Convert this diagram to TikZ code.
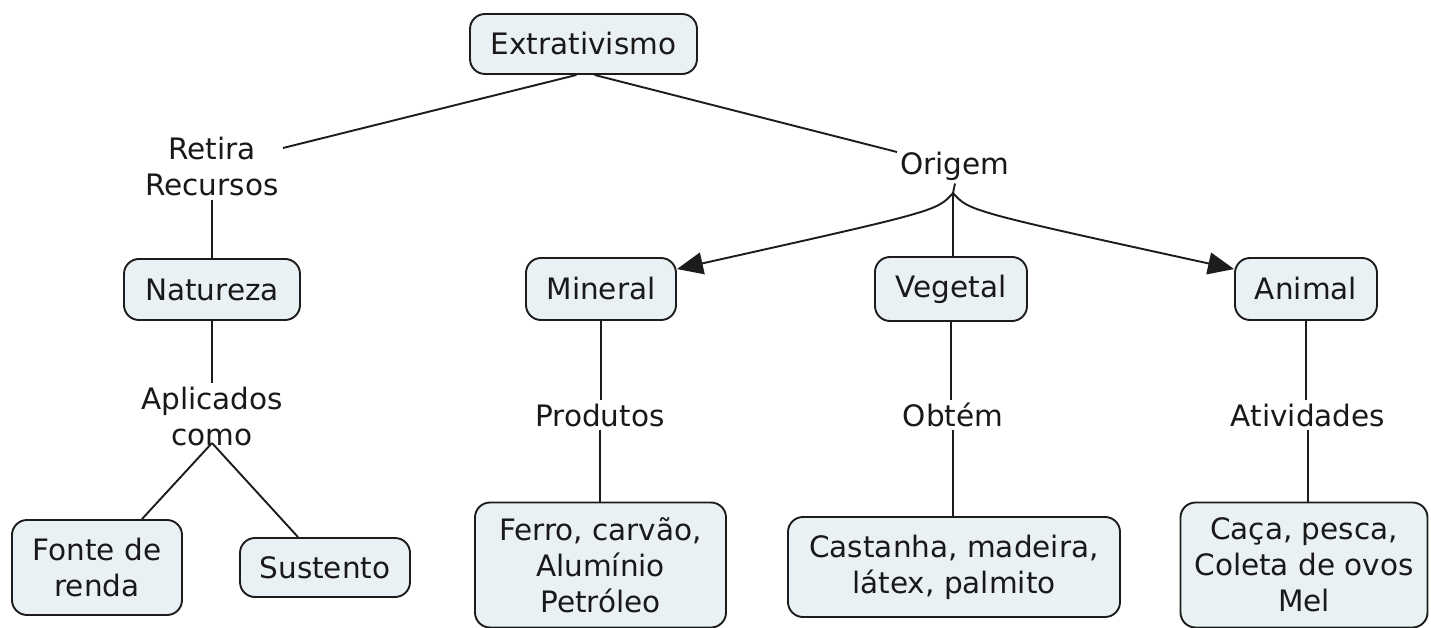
\documentclass[tikz,border=0pt]{standalone}
\usepackage{fontspec}
\setmainfont{DejaVu Sans}
\usetikzlibrary{arrows.meta,calc}
\definecolor{boxfill}{RGB}{234,241,245}
\definecolor{edgecol}{RGB}{28,28,28}
\definecolor{txtcol}{RGB}{25,25,25}
\begin{document}
\begin{tikzpicture}[x=1pt,y=-1pt,
  concept/.style={draw=edgecol, line width=1.9pt, fill=boxfill, rounded corners=15pt,
    font=\fontsize{29.5pt}{36pt}\selectfont, text=txtcol, align=center, inner sep=0pt},
  lbl/.style={font=\fontsize{29.5pt}{36pt}\selectfont, text=txtcol, align=center, inner sep=3pt},
  conn/.style={line width=1.9pt, draw=edgecol},
  arr/.style={conn, -{Triangle[length=26pt,width=22pt]}}]
\useasboundingbox (0,0) rectangle (1431,628);
\fill[white] (0,0) rectangle (1431,628);

% concepts
\node[concept, minimum width=227pt, minimum height=60pt] (ext) at (583.5,44) {Extrativismo};
\node[concept, minimum width=176pt, minimum height=61pt] (nat) at (212,289.5) {Natureza};
\node[concept, minimum width=150pt, minimum height=62pt] (min) at (601,289) {Mineral};
\node[concept, minimum width=152pt, minimum height=64pt] (veg) at (951,289) {Vegetal};
\node[concept, minimum width=142pt, minimum height=62pt] (ani) at (1306,289) {Animal};
\node[concept, minimum width=170pt, minimum height=95pt] (fon) at (97,567.5) {Fonte de\\renda};
\node[concept, minimum width=170pt, minimum height=59pt] (sus) at (325,567.5) {Sustento};
\node[concept, minimum width=251pt, minimum height=125pt] (fer) at (600.5,565) {Ferro, carvão,\\Alumínio\\Petróleo};
\node[concept, minimum width=332pt, minimum height=100pt] (cas) at (954,567) {Castanha, madeira,\\látex, palmito};
\node[concept, minimum width=247pt, minimum height=125pt] (cac) at (1304,565) {Caça, pesca,\\Coleta de ovos\\Mel};

% linking phrases
\node[lbl] (ret) at (212,167) {Retira\\Recursos};
\node[lbl] (ori) at (955,166) {Origem};
\node[lbl] (apl) at (212,416) {Aplicados\\como};
\node[lbl] (pro) at (600,415) {Produtos};
\node[lbl] (obt) at (953,415) {Obtém};
\node[lbl] (ati) at (1308,415) {Atividades};

% helper coordinates
\coordinate (retE) at (283,148);
\coordinate (oriW) at (897,152);
\coordinate (oj) at (953,193);
\coordinate (aj) at (212,443);

% connectors
\draw[conn] ($(ext.south)+(-7,0)$) -- (retE);
\draw[conn] ($(ext.south)+(11,0)$) -- (oriW);
\draw[conn] (ret.south) -- (nat.north);
\draw[conn] (nat.south) -- (apl.north);
\draw[conn] (aj) -- ($(fon.north)+(45,0)$);
\draw[conn] (aj) -- ($(sus.north)+(-27,0)$);

\draw[conn] (ori.south) -- (oj);
\draw[arr] (oj) .. controls (937,211) .. ($(min.north east)+(0,12)$);
\draw[conn] (oj) -- (oj |- veg.north);
\draw[arr] (oj) .. controls (969,211) .. ($(ani.north west)+(0,12)$);

\draw[conn] (pro.north -| min.south) -- (min.south);
\draw[conn] (pro.south) -- (pro.south |- fer.north);
\draw[conn] (veg.south) -- (obt.north -| veg.south);
\draw[conn] (obt.south) -- (obt.south |- cas.north);
\draw[conn] (ani.south) -- (ati.north -| ani.south);
\draw[conn] (ati.south) -- (ati.south |- cac.north);
\end{tikzpicture}
\end{document}
